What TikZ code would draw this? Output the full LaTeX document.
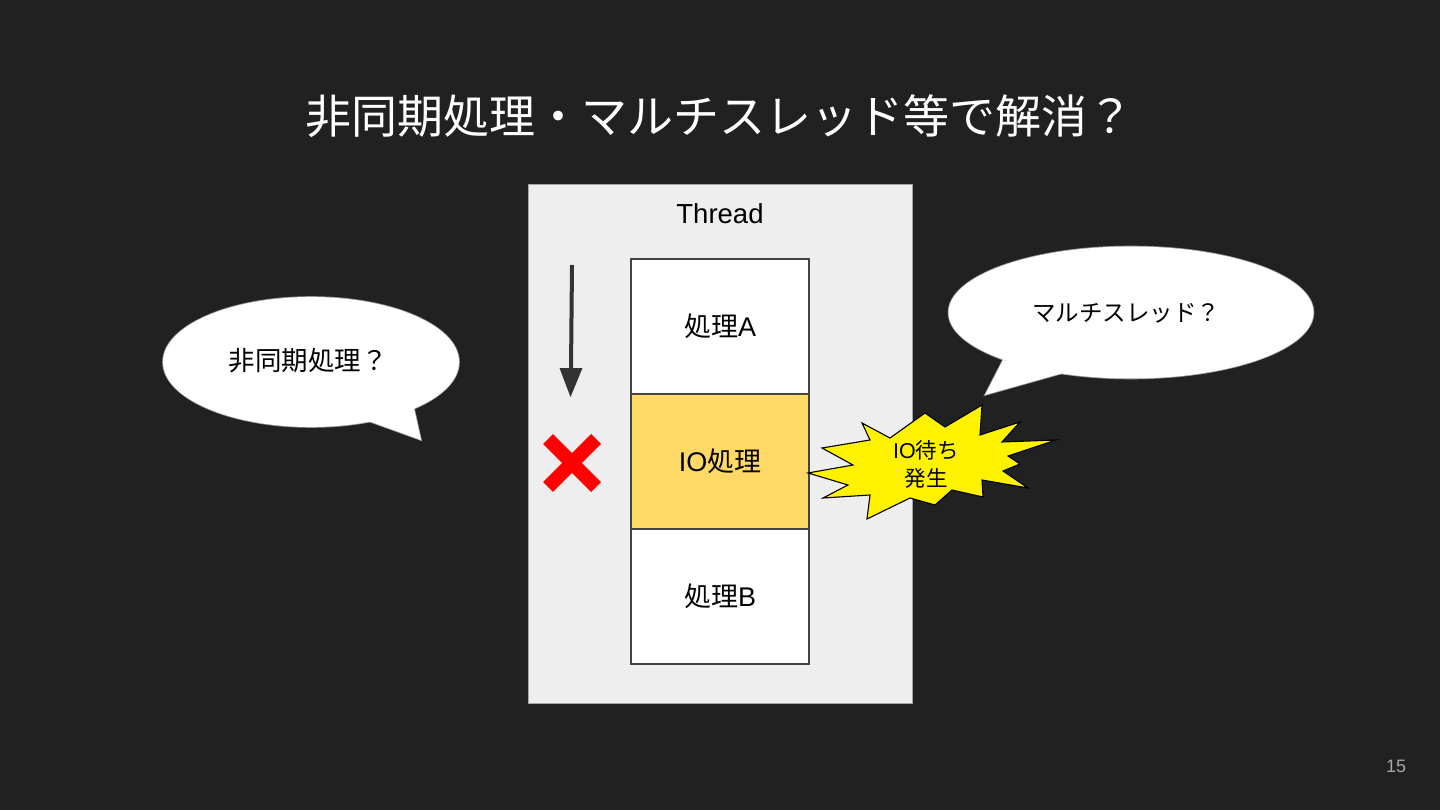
\documentclass[tikz,border=0pt]{standalone}
\usepackage{fontspec}
\setmainfont{Liberation Sans}
\newfontfamily\jp{Noto Sans CJK JP}
\usetikzlibrary{shapes.geometric,calc}
\definecolor{bgc}{HTML}{212121}
\definecolor{threadc}{HTML}{EEEEEE}
\definecolor{ioc}{HTML}{FFD966}
\definecolor{boxline}{HTML}{444444}
\definecolor{arrowc}{HTML}{333333}
\tikzset{
  stepbox/.style={draw=boxline, line width=1.3pt, fill=white, minimum width=178pt, minimum height=135pt, inner sep=0pt, font=\fontsize{27}{30}\selectfont},
  bubbleline/.style={draw=gray!80, line width=1.6pt},
}
\begin{document}
\begin{tikzpicture}[x=1pt,y=-1pt]
\fill[bgc] (0,0) rectangle (1440,810);
\useasboundingbox (0,0) rectangle (1440,810);
% title
\node[text=white, font=\jp\fontsize{46}{52}\selectfont] (title) at (719,116) {非同期処理・マルチスレッド等で解消？};
% thread box
\node[draw=gray!70, line width=0.8pt, fill=threadc, minimum width=384pt, minimum height=519pt, inner sep=0pt] (thread) at (720,443.5) {};
\node[font=\fontsize{27.5}{30}\selectfont] (threadlbl) at (720,214) {Thread};
% steps
\node[stepbox] (a) at (720,326.5) {{\jp 処理}A};
\node[stepbox, fill=ioc] (io) at (720,461.5) {IO{\jp 処理}};
\node[stepbox] (b) at (720,596.5) {{\jp 処理}B};
% flow arrow
\coordinate (arrs) at (572,265);
\coordinate (arre) at (571,369);
\coordinate (arrtip) at (570.5,397);
\draw[arrowc, line width=4pt] (arrs) -- (arre);
\fill[arrowc] (559.5,368) -- (582.5,368) -- (arrtip) -- cycle;
% red cross
\coordinate (xc) at (572,463);
\draw[red, line width=14pt] ($(xc)+(-24,-24)$) -- ($(xc)+(24,24)$);
\draw[red, line width=14pt] ($(xc)+(-24,24)$) -- ($(xc)+(24,-24)$);
% starburst
\draw[fill=yellow, draw=black, line width=1.1pt, line join=miter]
 (808,473) -- (853,465) -- (822,448) -- (870,440) -- (862,423) -- (890,438) -- (925,413) -- (945,427) -- (982,405) -- (980,435) -- (1020,422) -- (1002,442) -- (1056,440) -- (1008,456) -- (1020,464) -- (1003,471) -- (1028,488) -- (982,480) -- (983,497) -- (952,490) -- (935,505) -- (910,498) -- (867,519) -- (870,495) -- (823,498) -- (848,485) -- cycle;
\node[align=center, font=\fontsize{21.5}{28}\selectfont, inner sep=0pt] (wait) at (926,464) {IO{\jp 待ち}\\{\jp 発生}};
% left bubble
\path[bubbleline, fill=white] (311,362) ellipse [x radius=148, y radius=65];
\path[bubbleline, fill=white] (360,418) -- (413,404) -- (421,440) -- cycle;
\fill[white] (311,362) ellipse [x radius=148, y radius=65];
\fill[white] (360,418) -- (413,404) -- (421,440) -- cycle;
\node[font=\jp\fontsize{26.5}{30}\selectfont] (lb) at (308,361) {非同期処理？};
% right bubble
\path[bubbleline, fill=white] (1131,312.5) ellipse [x radius=182.5, y radius=66];
\path[bubbleline, fill=white] (1003,360) -- (1063,373) -- (985,395) -- cycle;
\fill[white] (1131,312.5) ellipse [x radius=182.5, y radius=66];
\fill[white] (1003,360) -- (1063,373) -- (985,395) -- cycle;
\node[font=\jp\fontsize{23.5}{28}\selectfont] (rb) at (1126,313) {マルチスレッド？};
% page number
\node[text=gray!70, font=\fontsize{18}{20}\selectfont] (pg) at (1396,766) {15};
\end{tikzpicture}
\end{document}
